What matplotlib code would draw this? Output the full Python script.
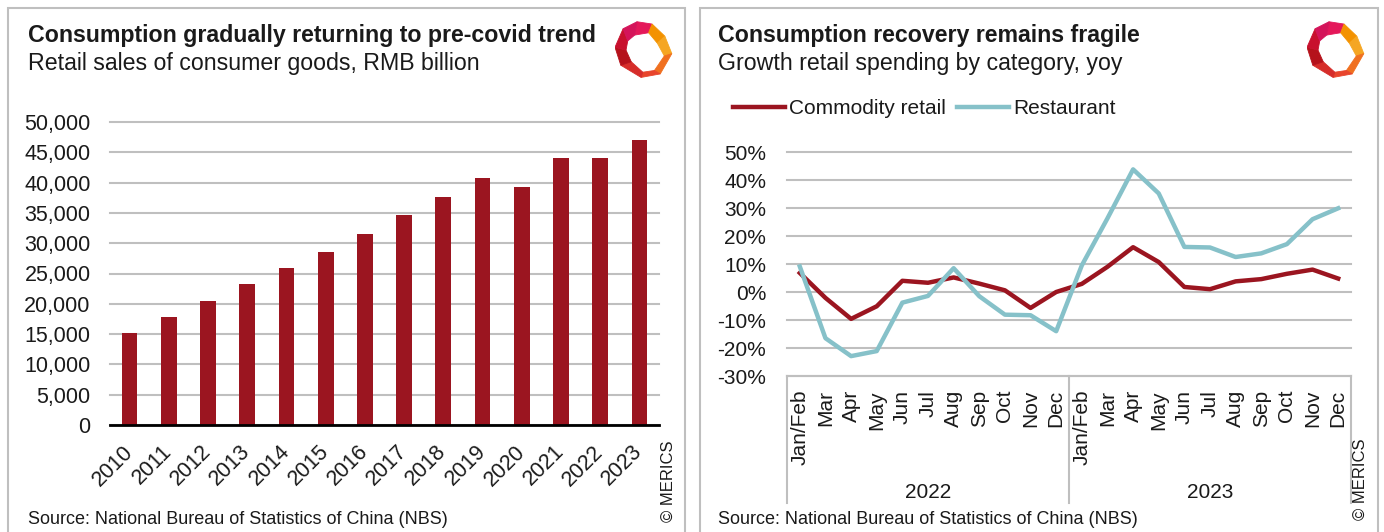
import matplotlib
matplotlib.use("Agg")
import matplotlib.pyplot as plt
import matplotlib.transforms as mtransforms
from matplotlib.patches import Rectangle, Polygon
from matplotlib.ticker import FuncFormatter, MultipleLocator

W, H = 1384, 532
DPI = 100

# left chart: retail sales of consumer goods, RMB billion
years = [str(y) for y in range(2010, 2024)]
retail_sales = [15100, 17900, 20500, 23200, 25900, 28600, 31500,
                34700, 37700, 40700, 39200, 44000, 44000, 47100]

# right chart: yoy growth by category, %
months = ["Jan/Feb", "Mar", "Apr", "May", "Jun", "Jul", "Aug",
          "Sep", "Oct", "Nov", "Dec"]
period_years = ["2022", "2023"]
commodity_retail = [6.8, -2.1, -9.6, -5.1, 4.0, 3.3, 5.2, 3.0, 0.6, -5.7, 0.0,
                    2.9, 9.0, 16.0, 10.7, 1.8, 1.0, 3.8, 4.6, 6.5, 8.0, 4.8]
restaurant = [9.1, -16.5, -22.9, -21.1, -3.8, -1.4, 8.5, -1.5, -8.1, -8.3, -14.0,
              9.5, 26.3, 43.8, 35.2, 16.1, 15.9, 12.5, 13.8, 17.1, 26.0, 29.9]

RED = "#9b1520"
TEAL = "#86c1c9"
GRID = "#bfbfbf"
TEXT = "#1a1a1a"

plt.rcParams["font.family"] = ["Liberation Sans", "DejaVu Sans"]
plt.rcParams["text.color"] = TEXT

fig = plt.figure(figsize=(W / DPI, H / DPI), dpi=DPI)


def px(x0, y0, x1, y1):
    # pixel box (top-left origin) -> figure fraction rect
    return [x0 / W, 1 - y1 / H, (x1 - x0) / W, (y1 - y0) / H]


def ftext(x, y, s, **kw):
    return fig.text(x / W, 1 - y / H, s, **kw)


# panel frames
for x0, x1 in [(8, 685), (700, 1378)]:
    fig.patches.append(Rectangle((x0 / W, -0.05), (x1 - x0) / W, 1.05 - 8 / H,
                                 transform=fig.transFigure, fill=False,
                                 edgecolor=GRID, lw=1.5))

# ---------- left: bars ----------
ax1 = fig.add_axes(px(110, 122, 659, 425))
xb = range(len(years))
ax1.bar(xb, retail_sales, width=0.4, color=RED, zorder=2)
ax1.set_xlim(-0.5, len(years) - 0.5)
ax1.set_ylim(0, 50000)
ax1.yaxis.set_major_locator(MultipleLocator(5000))
ax1.yaxis.set_major_formatter(FuncFormatter(lambda v, p: f"{v:,.0f}"))
ax1.grid(axis="y", color=GRID, lw=1.5, zorder=0)
ax1.set_axisbelow(True)
for s in ["top", "right", "left"]:
    ax1.spines[s].set_visible(False)
ax1.spines["bottom"].set_color("black")
ax1.spines["bottom"].set_linewidth(2)
ax1.spines["bottom"].set_zorder(3)
ax1.set_xticks(list(xb), years, rotation=45, ha="right", va="center",
               rotation_mode="anchor")
ax1.tick_params(length=0, labelsize=15.5, colors=TEXT)
ax1.tick_params(axis="y", pad=14)
ax1.tick_params(axis="x", pad=17)
for gl in ax1.get_ygridlines():
    gl.set_clip_on(False)

# ---------- right: lines ----------
ax2 = fig.add_axes(px(787, 152, 1351, 376))
n = len(commodity_retail)
xm = range(n)
l1, = ax2.plot(xm, commodity_retail, color=RED, lw=3.2, label="Commodity retail")
l2, = ax2.plot(xm, restaurant, color=TEAL, lw=3.2, label="Restaurant")
ax2.set_xlim(-0.5, n - 0.5)
ax2.set_ylim(-30, 50)
ax2.yaxis.set_major_locator(MultipleLocator(10))
ax2.yaxis.set_major_formatter(FuncFormatter(lambda v, p: f"{v:.0f}%"))
ax2.grid(axis="y", color=GRID, lw=1.5)
ax2.set_axisbelow(True)
for s in ["top", "right", "left"]:
    ax2.spines[s].set_visible(False)
ax2.spines["bottom"].set_color(GRID)
ax2.spines["bottom"].set_linewidth(1.5)
ax2.set_xticks(list(xm), months * len(period_years), rotation=90,
               ha="center", va="top")
ax2.tick_params(length=0, labelsize=15, colors=TEXT)
ax2.tick_params(axis="y", pad=15)
ax2.tick_params(axis="x", pad=10)
for gl in ax2.get_ygridlines():
    gl.set_clip_on(False)

blend = mtransforms.blended_transform_factory(ax2.transData, ax2.transAxes)
y_sep = (376 - 503) / 224
y_year = (376 - 492) / 224
per = len(months)
for k in range(len(period_years) + 1):
    xv = k * per - 0.5
    ax2.plot([xv, xv], [0, y_sep], transform=blend, color=GRID, lw=1.5,
             clip_on=False)
for k, yr in enumerate(period_years):
    ax2.text(k * per + (per - 1) / 2, y_year, yr, transform=blend,
             ha="center", va="center", fontsize=15)

fig.legend(handles=[l1, l2], loc="center left",
           bbox_to_anchor=(733 / W, 1 - 109 / H), ncol=2, frameon=False,
           fontsize=15, handlelength=2.5, handletextpad=0.2,
           columnspacing=0.5, borderpad=0, borderaxespad=0)

# ---------- titles & notes ----------
for x0, title, sub in [
        (28, "Consumption gradually returning to pre-covid trend",
         "Retail sales of consumer goods, RMB billion"),
        (718, "Consumption recovery remains fragile",
         "Growth retail spending by category, yoy")]:
    ftext(x0, 42, title, fontsize=16.7, fontweight="bold", va="baseline")
    ftext(x0, 70, sub, fontsize=16.7, va="baseline")
    ftext(x0, 524, "Source: National Bureau of Statistics of China (NBS)",
          fontsize=13, va="baseline")

ftext(668, 522, "© MERICS", rotation=90, ha="center", va="bottom", fontsize=12)
ftext(1360, 520, "© MERICS", rotation=90, ha="center", va="bottom", fontsize=12)

# ---------- logo ----------
outer = [(0.38, 0.03), (0.64, 0.07), (0.86, 0.28), (0.98, 0.58), (0.78, 0.93),
         (0.45, 0.99), (0.10, 0.78), (0.00, 0.47), (0.14, 0.15)]
inner = [(0.34, 0.26), (0.58, 0.22), (0.73, 0.40), (0.85, 0.62), (0.68, 0.87),
         (0.48, 0.90), (0.28, 0.72), (0.19, 0.52), (0.22, 0.36)]
logo_cols = ["#e4185a", "#f39200", "#f5a623", "#f07020", "#e8452c",
             "#d62d2a", "#b5121b", "#c8102e", "#d4145a"]


def draw_logo(x0, y0, size):
    lax = fig.add_axes(px(x0, y0, x0 + size, y0 + size))
    lax.set_xlim(0, 1)
    lax.set_ylim(1, 0)
    lax.axis("off")
    m = len(outer)
    for k in range(m):
        j = (k + 1) % m
        lax.add_patch(Polygon([outer[k], outer[j], inner[j], inner[k]],
                              closed=True, facecolor=logo_cols[k],
                              edgecolor=logo_cols[k], lw=0.6))


draw_logo(615, 20, 58)
draw_logo(1307, 20, 58)

fig.savefig("out.png", dpi=DPI)
